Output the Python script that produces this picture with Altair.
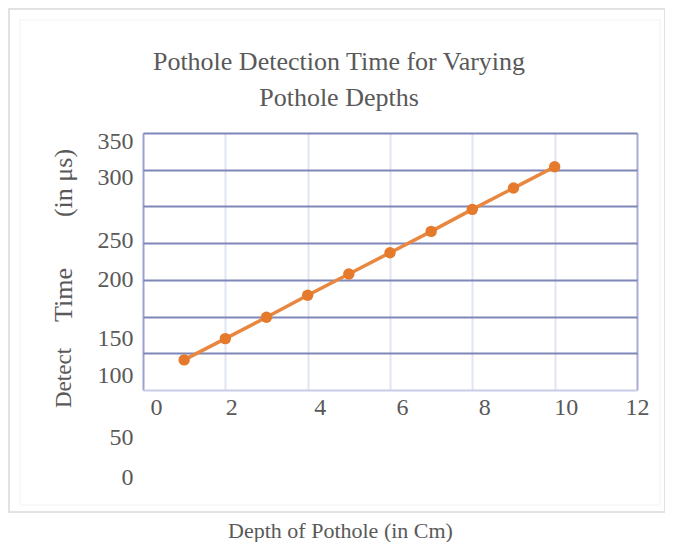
import altair as alt
import pandas as pd

# ---- data ----
depth_cm = [1, 2, 3, 4, 5, 6, 7, 8, 9, 10]
detect_time_us = [41, 70, 99, 129, 158, 187, 216, 246, 275, 304]
x_ticks = [0, 2, 4, 6, 8, 10, 12]
y_ticks = [0, 50, 100, 150, 200, 250, 300, 350]
title_lines = ["Pothole Detection Time for Varying", "Pothole Depths"]
x_title = "Depth of Pothole (in Cm)"
y_title_parts = ["Detect", "Time", "(in μs)"]

FONT = "Liberation Serif"
TEXT = "#595959"

df = pd.DataFrame({"depth": depth_cm, "time": detect_time_us})
one = pd.DataFrame({"k": [0]})

# label displacement of the (misaligned) reference tick labels
y_label_shift = {350: 8, 300: 8, 250: 34, 200: 36, 150: 59, 100: 59, 50: 84, 0: 87}
x_label_shift = {0: 13, 2: 6, 4: 12, 6: 12, 8: 12, 10: 11}


def cond(shift):
    return {
        "condition": [{"test": f"datum.value === {k}", "value": v} for k, v in shift.items()],
        "value": 0,
    }


x_enc = alt.X(
    "depth:Q",
    scale=alt.Scale(domain=[0, 12], nice=False),
    axis=alt.Axis(
        values=x_ticks,
        tickCount=len(x_ticks),
        title=x_title,
        titleX=197,
        titleY=140,
        titleBaseline="middle",
        titleFont=FONT,
        titleFontSize=22,
        titleFontWeight="normal",
        titleColor=TEXT,
        labelFont=FONT,
        labelFontSize=24,
        labelColor=TEXT,
        labelPadding=5,
        labelFlush=False,
        labelOverlap=False,
        labelOffset=cond(x_label_shift),
        domain=False,
        ticks=False,
        grid=True,
        gridWidth=2,
        gridColor={
            "condition": [
                {"test": "datum.value === 0", "value": "#9ca1d0"},
                {"test": "datum.value === 12", "value": "#a9acd8"},
            ],
            "value": "#e0e5f1",
        },
    ),
)

y_enc = alt.Y(
    "time:Q",
    scale=alt.Scale(domain=[0, 350], nice=False),
    axis=alt.Axis(
        values=y_ticks,
        tickCount=len(y_ticks),
        title="",
        labelFont=FONT,
        labelFontSize=24,
        labelColor=TEXT,
        labelPadding=10,
        labelOverlap=False,
        labelOffset=cond(y_label_shift),
        domain=False,
        ticks=False,
        grid=True,
        gridWidth=2,
        gridColor={
            "condition": [{"test": "datum.value === 0", "value": "#c9cce6"}],
            "value": "#7f86b8",
        },
    ),
)

line = alt.Chart(df).mark_line(color="#e8873f", strokeWidth=3.5).encode(x=x_enc, y=y_enc)
points = alt.Chart(df).mark_circle(color="#e57a2c", size=130, opacity=1).encode(x="depth:Q", y="time:Q")

frame_outer = alt.Chart(one).mark_rect(fillOpacity=0, stroke="#e2e2e2", strokeWidth=2).encode(
    x=alt.value(-134), x2=alt.value(522), y=alt.value(-124), y2=alt.value(379)
)
frame_inner = alt.Chart(one).mark_rect(fillOpacity=0, stroke="#f2f2f2", strokeWidth=1).encode(
    x=alt.value(-123), x2=alt.value(517), y=alt.value(-113), y2=alt.value(372)
)

text_layers = []
for part, ypos, fs in zip(y_title_parts, [245, 162, 50], [23, 26, 26]):
    text_layers.append(
        alt.Chart(one)
        .mark_text(text=part, angle=270, font=FONT, fontSize=fs, color=TEXT, baseline="middle", align="center")
        .encode(x=alt.value(-79), y=alt.value(ypos))
    )
for line_text, ypos in zip(title_lines, [-71, -35]):
    text_layers.append(
        alt.Chart(one)
        .mark_text(text=line_text, font=FONT, fontSize=26, color=TEXT, baseline="middle", align="center")
        .encode(x=alt.value(196), y=alt.value(ypos))
    )

chart = (
    alt.layer(frame_outer, frame_inner, line, points, *text_layers)
    .properties(
        width=494,
        height=257,
        autosize=alt.AutoSizeParams(type="none"),
        padding={"left": 135, "top": 125, "right": 28, "bottom": 152},
    )
    .configure_view(stroke="transparent")
    .configure(background="white")
)

chart.save("out.html", embed_options={"renderer": "svg", "actions": False})
